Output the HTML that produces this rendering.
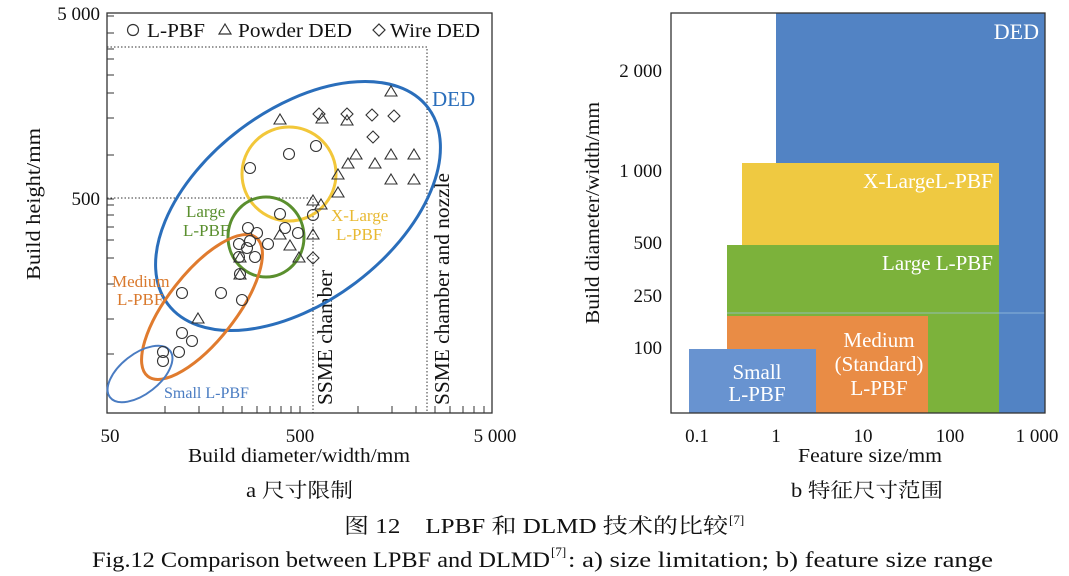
<!DOCTYPE html>
<html><head><meta charset="utf-8"><style>
html,body{margin:0;padding:0;background:#fff;}
svg{display:block;font-family:"Liberation Serif","Noto Serif CJK SC",serif;}
</style></head><body>
<svg width="1069" height="576" viewBox="0 0 1069 576" xmlns="http://www.w3.org/2000/svg">
<!-- LEFT PLOT -->
<rect x="107" y="13" width="385" height="400" fill="none" stroke="#333" stroke-width="1.3"/>
<g stroke="#333" stroke-width="1">
<path d="M107 16h7M107 33h7M107 49h7M107 59h7M107 75h7M107 93h7M107 118h7M107 155h7M107 199h7M107 205h7M107 215h7M107 227h7M107 240h7M107 258h7M107 284h7M107 319h7M107 354h7"/>
<path d="M165 413v-7M199 413v-7M223 413v-7M242 413v-7M257 413v-7M270 413v-7M281 413v-7M291 413v-7M300 413v-7M358 413v-7M392 413v-7M416 413v-7M435 413v-7M450 413v-7M463 413v-7M474 413v-7M484 413v-7"/>
</g>
<g stroke="#333" stroke-width="1" stroke-dasharray="1.5,2" fill="none">
<path d="M107 47H427V413"/>
<path d="M107 198H313V413"/>
</g>
<g font-size="19" fill="#111">
<text x="100" y="20" text-anchor="end">5 000</text>
<text x="100" y="205" text-anchor="end">500</text>
<text x="110" y="442" text-anchor="middle">50</text>
<text x="300" y="442" text-anchor="middle">500</text>
<text x="495" y="442" text-anchor="middle">5 000</text>
<text x="188" y="462" font-size="20" textLength="222" lengthAdjust="spacingAndGlyphs">Build diameter/width/mm</text>
<text transform="translate(40,280) rotate(-90)" font-size="20" textLength="152" lengthAdjust="spacingAndGlyphs">Build height/mm</text>
<text x="246" y="497" font-size="20" textLength="107" lengthAdjust="spacingAndGlyphs">a 尺寸限制</text>
<text transform="translate(332,405) rotate(-90)" font-size="21" textLength="135" lengthAdjust="spacingAndGlyphs">SSME chamber</text>
<text transform="translate(449,405) rotate(-90)" font-size="21" textLength="232" lengthAdjust="spacingAndGlyphs">SSME chamber and nozzle</text>
</g>
<!-- legend -->
<g font-size="20" fill="#111" stroke="none">
<text x="147" y="37" textLength="58" lengthAdjust="spacingAndGlyphs">L-PBF</text>
<text x="238" y="37" textLength="114" lengthAdjust="spacingAndGlyphs">Powder DED</text>
<text x="390" y="37" textLength="90" lengthAdjust="spacingAndGlyphs">Wire DED</text>
</g>
<g fill="none" stroke="#333" stroke-width="1.2">
<circle cx="133" cy="30" r="5.5"/>
<path d="M225 24l6 10h-12z"/>
<path d="M379 24l6 6-6 6-6-6z"/>
</g>
<!-- ellipses -->
<g fill="none" stroke-width="3">
<ellipse cx="298" cy="206" rx="163" ry="96" transform="rotate(-37 298 206)" stroke="#2a6ebb"/>
<circle cx="289" cy="174" r="47" stroke="#f2c73a"/>
<ellipse cx="266" cy="237" rx="38" ry="40" stroke="#5a8f2e"/>
<ellipse cx="202" cy="307" rx="88" ry="34" transform="rotate(-52 202 307)" stroke="#e07b2e"/>
<ellipse cx="140" cy="374" rx="38" ry="20" transform="rotate(-38 140 374)" stroke="#4a7cc2" stroke-width="2"/>
</g>
<g font-size="17">
<text x="432" y="106" fill="#2a6ebb" font-size="21">DED</text>
<text x="331" y="221" fill="#e8b932" font-size="17">X-Large</text>
<text x="336" y="240" fill="#e8b932" font-size="17">L-PBF</text>
<text x="186" y="217" fill="#5a8f2e" font-size="17">Large</text>
<text x="183" y="236" fill="#5a8f2e" font-size="17">L-PBF</text>
<text x="112" y="287" fill="#d9792d" font-size="17">Medium</text>
<text x="117" y="305" fill="#d9792d" font-size="17">L-PBF</text>
<text x="164" y="398" fill="#4a7cc2" font-size="16">Small L-PBF</text>
</g>
<!-- markers -->
<g fill="none" stroke="#333" stroke-width="1.1">
<circle cx="289" cy="154" r="5.5"/><circle cx="316" cy="146" r="5.5"/><circle cx="250" cy="168" r="5.5"/><circle cx="280" cy="214" r="5.5"/><circle cx="313" cy="215" r="5.5"/><circle cx="248" cy="228" r="5.5"/><circle cx="257" cy="233" r="5.5"/><circle cx="285" cy="228" r="5.5"/><circle cx="298" cy="233" r="5.5"/><circle cx="250" cy="241" r="5.5"/><circle cx="239" cy="244" r="5.5"/><circle cx="268" cy="244" r="5.5"/><circle cx="247" cy="248" r="5.5"/><circle cx="239" cy="257" r="5.5"/><circle cx="255" cy="257" r="5.5"/><circle cx="240" cy="274" r="5.5"/><circle cx="182" cy="293" r="5.5"/><circle cx="221" cy="293" r="5.5"/><circle cx="242" cy="300" r="5.5"/><circle cx="182" cy="333" r="5.5"/><circle cx="192" cy="341" r="5.5"/><circle cx="179" cy="352" r="5.5"/><circle cx="163" cy="352" r="5.5"/><circle cx="163" cy="361" r="5.5"/>
<path d="M391 86l6 10h-12z"/><path d="M280 114l6 10h-12z"/><path d="M322 113l6 10h-12z"/><path d="M347 115l6 10h-12z"/><path d="M356 149l6 10h-12z"/><path d="M391 149l6 10h-12z"/><path d="M414 149l6 10h-12z"/><path d="M348 158l6 10h-12z"/><path d="M375 158l6 10h-12z"/><path d="M338 169l6 10h-12z"/><path d="M391 174l6 10h-12z"/><path d="M414 174l6 10h-12z"/><path d="M338 187l6 10h-12z"/><path d="M313 195l6 10h-12z"/><path d="M321 199l6 10h-12z"/><path d="M280 229l6 10h-12z"/><path d="M313 229l6 10h-12z"/><path d="M290 240l6 10h-12z"/><path d="M240 252l6 10h-12z"/><path d="M299 252l6 10h-12z"/><path d="M240 269l6 10h-12z"/><path d="M198 313l6 10h-12z"/>
<path d="M319 108l6 6-6 6-6-6z"/><path d="M347 108l6 6-6 6-6-6z"/><path d="M372 109l6 6-6 6-6-6z"/><path d="M394 110l6 6-6 6-6-6z"/><path d="M373 131l6 6-6 6-6-6z"/><path d="M313 252l6 6-6 6-6-6z"/>
</g>

<!-- RIGHT PLOT -->
<rect x="776" y="13" width="269" height="400" fill="#5283c4"/>
<rect x="742" y="163" width="257" height="82" fill="#efc941"/>
<rect x="727" y="245" width="272" height="168" fill="#7cb23b"/>
<line x1="727" y1="313" x2="1045" y2="313" stroke="#9ec3e0" stroke-width="0.8"/>
<rect x="727" y="316" width="201" height="97" fill="#e98c45"/>
<rect x="689" y="349" width="127" height="64" fill="#6893d0"/>
<rect x="671" y="13" width="374" height="400" fill="none" stroke="#333" stroke-width="1.3"/>
<g font-size="21" fill="#fff">
<text x="1039" y="39" text-anchor="end" font-size="22">DED</text>
<text x="863" y="188" textLength="130" lengthAdjust="spacingAndGlyphs">X-LargeL-PBF</text>
<text x="882" y="270" textLength="111" lengthAdjust="spacingAndGlyphs">Large L-PBF</text>
<text x="879" y="347" text-anchor="middle">Medium</text>
<text x="879" y="371" text-anchor="middle">(Standard)</text>
<text x="879" y="395" text-anchor="middle">L-PBF</text>
<text x="757" y="379" text-anchor="middle">Small</text>
<text x="757" y="401" text-anchor="middle">L-PBF</text>
</g>
<g font-size="19" fill="#111">
<text x="662" y="77" text-anchor="end">2 000</text>
<text x="662" y="177" text-anchor="end">1 000</text>
<text x="662" y="249" text-anchor="end">500</text>
<text x="662" y="302" text-anchor="end">250</text>
<text x="662" y="354" text-anchor="end">100</text>
<text x="697" y="442" text-anchor="middle">0.1</text>
<text x="776" y="442" text-anchor="middle">1</text>
<text x="863" y="442" text-anchor="middle">10</text>
<text x="950" y="442" text-anchor="middle">100</text>
<text x="1037" y="442" text-anchor="middle">1 000</text>
<text x="798" y="462" font-size="20" textLength="144" lengthAdjust="spacingAndGlyphs">Feature size/mm</text>
<text transform="translate(599,324) rotate(-90)" font-size="20" textLength="222" lengthAdjust="spacingAndGlyphs">Build diameter/width/mm</text>
<text x="791" y="497" font-size="20" textLength="152" lengthAdjust="spacingAndGlyphs">b 特征尺寸范围</text>
</g>
<!-- captions -->
<g font-size="21" fill="#111">
<text x="344" y="533" textLength="384" lengthAdjust="spacingAndGlyphs">图 12　LPBF 和 DLMD 技术的比较</text>
<text x="729" y="524" font-size="13">[7]</text>
<text x="92" y="567" font-size="22" textLength="458" lengthAdjust="spacingAndGlyphs">Fig.12 Comparison between LPBF and DLMD</text>
<text x="551" y="556" font-size="13">[7]</text>
<text x="568" y="567" font-size="22" textLength="425" lengthAdjust="spacingAndGlyphs">: a) size limitation; b) feature size range</text>
</g>
</svg>
</body></html>
